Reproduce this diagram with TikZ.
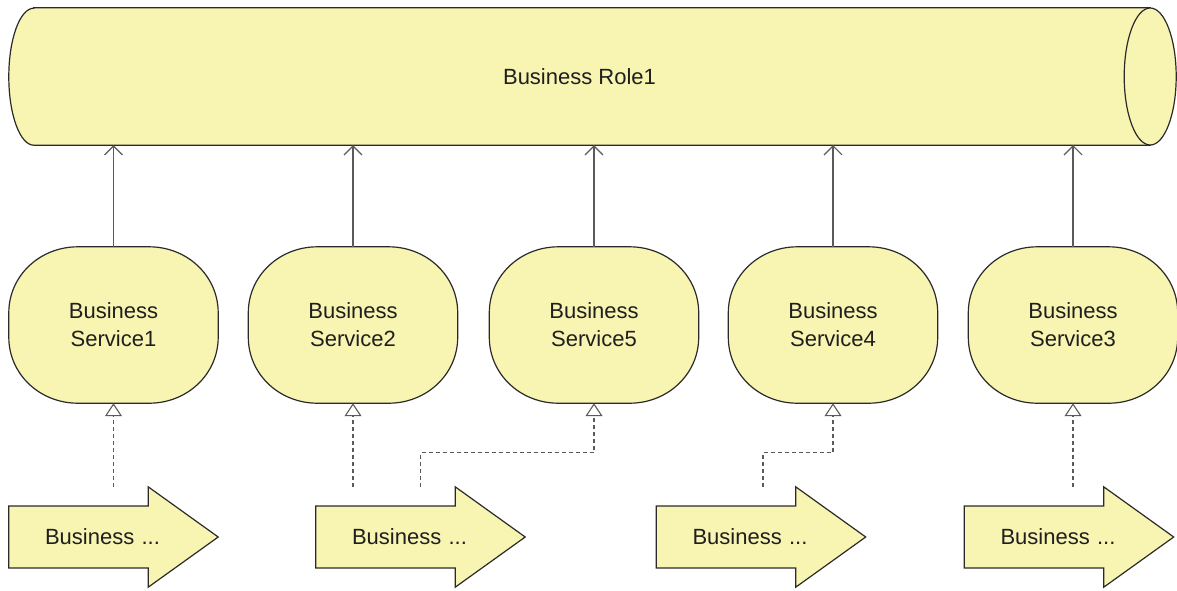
\documentclass[tikz,border=0pt]{standalone}
\usepackage{fontspec}
\setmainfont{Liberation Sans}
\usetikzlibrary{arrows.meta,backgrounds,calc}
\definecolor{bizfill}{HTML}{F8F4B2}
\definecolor{bizline}{HTML}{2A2A2A}
\definecolor{conn}{HTML}{5A5A5A}
\tikzset{
  shapefill/.style={fill=bizfill,draw=bizline,line width=1.2pt},
  box/.style={draw=none,inner sep=0pt,font=\fontsize{22pt}{28pt}\selectfont,text=black!88},
  svcbox/.style={box,minimum width=209pt,minimum height=156pt,align=center},
  procbox/.style={box,minimum width=209pt,minimum height=100pt,text width=137pt,inner xsep=36pt,align=left},
  serving/.style={conn,line width=1.1pt,-{Straight Barb[length=9pt,width=18pt,line width=1.1pt]}},
  realize/.style={conn,line width=1.1pt,dash pattern=on 4pt off 3pt,-{Triangle[open,length=13pt,width=17pt,line width=1.1pt]}}
}
\begin{document}
\begin{tikzpicture}[x=1pt,y=1pt]
\useasboundingbox (0,0) rectangle (1177,-590);
% nodes
\node[box,minimum width=1141pt,minimum height=137pt] (role) at (579.5,-76.5) {Business Role1};
\node[svcbox] (s1) at (113.5,-325) {Business\\Service1};
\node[svcbox] (s2) at (353,-325) {Business\\Service2};
\node[svcbox] (s5) at (594,-325) {Business\\Service5};
\node[svcbox] (s4) at (833,-325) {Business\\Service4};
\node[svcbox] (s3) at (1073,-325) {Business\\Service3};
\node[procbox] (p1) at (113.5,-537) {Business ...};
\node[procbox] (p2) at (420.5,-537) {Business ...};
\node[procbox] (p3) at (761,-537) {Business ...};
\node[procbox] (p4) at (1069,-537) {Business ...};
% shapes
\begin{pgfonlayer}{background}
  \filldraw[shapefill] ([xshift=25pt]role.north west) -- (role.north east) -- (role.south east)
     -- ([xshift=25pt]role.south west) arc[start angle=270,end angle=90,x radius=25pt,y radius=68.5pt] -- cycle;
  \filldraw[shapefill] (role.east) ellipse[x radius=26pt,y radius=68.5pt];
  \foreach \s in {s1,s2,s5,s4,s3}{
    \filldraw[shapefill] ([xshift=69pt]\s.north west) -- ([xshift=-69pt]\s.north east)
      .. controls ([xshift=-31pt]\s.north east) and ([yshift=-29pt]\s.north east) .. ([yshift=-66pt]\s.north east)
      -- ([yshift=66pt]\s.south east)
      .. controls ([yshift=29pt]\s.south east) and ([xshift=-31pt]\s.south east) .. ([xshift=-69pt]\s.south east)
      -- ([xshift=69pt]\s.south west)
      .. controls ([xshift=31pt]\s.south west) and ([yshift=29pt]\s.south west) .. ([yshift=66pt]\s.south west)
      -- ([yshift=-66pt]\s.north west)
      .. controls ([yshift=-29pt]\s.north west) and ([xshift=31pt]\s.north west) .. ([xshift=69pt]\s.north west)
      -- cycle;
  }
  \foreach \p in {p1,p2,p3,p4}{
    \filldraw[shapefill] ([yshift=31pt]\p.west) -- ([xshift=-70pt,yshift=31pt]\p.east)
      -- ([xshift=-70pt]\p.north east) -- (\p.east) -- ([xshift=-70pt]\p.south east)
      -- ([xshift=-70pt,yshift=-31pt]\p.east) -- ([yshift=-31pt]\p.west) -- cycle;
  }
\end{pgfonlayer}
% serving connectors
\foreach \s in {s1,s2,s5,s4,s3}{
  \draw[serving] (\s.north) -- (\s.north |- role.south);
}
% realization connectors
\draw[realize] (s1.south |- p1.north) -- (s1.south);
\draw[realize] (s2.south |- p2.north) -- (s2.south);
\draw[realize] (p2.north) -- ++(0,34) -| (s5.south);
\draw[realize] ([xshift=2pt]p3.north) -- ++(0,34) -| (s4.south);
\draw[realize] (s3.south |- p4.north) -- (s3.south);
\end{tikzpicture}
\end{document}
